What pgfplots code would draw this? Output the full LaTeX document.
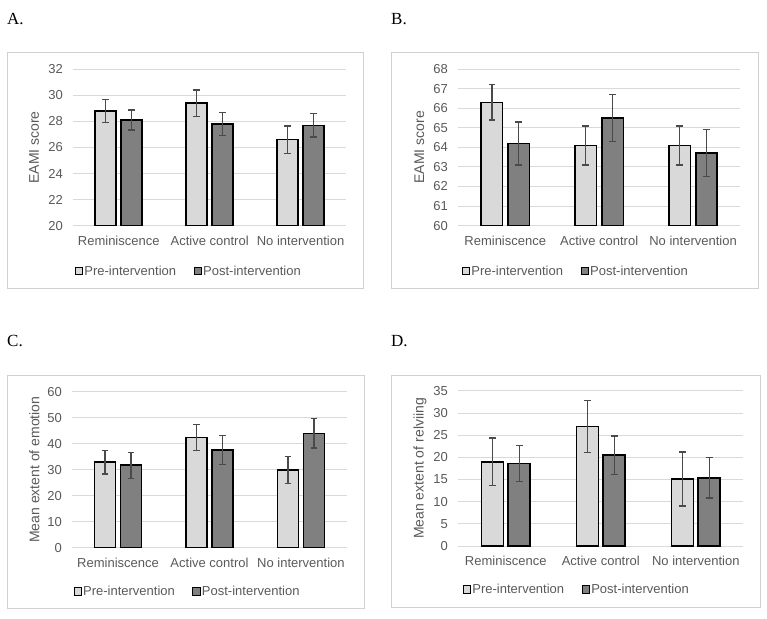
\documentclass[border=0pt]{standalone}
\usepackage{pgfplots}
\pgfplotsset{compat=1.18}
\usepackage{fontspec}
\setmainfont{Liberation Sans}
\newfontfamily\panelfont{Liberation Serif}
\definecolor{gridgray}{HTML}{D9D9D9}
\definecolor{labelgray}{HTML}{595959}
\definecolor{errgray}{HTML}{4A4A4A}
\definecolor{prefill}{HTML}{D9D9D9}
\definecolor{postfill}{HTML}{808080}
\definecolor{framegray}{HTML}{D0D0D0}
\newcommand{\lblfont}{\fontsize{13}{15}\selectfont}
\pgfplotsset{
  panel/.style={
    scale only axis, anchor=south west,
    xmin=-0.5, xmax=2.5, xtick={0,1,2},
    xticklabels={Reminiscence, Active control, No intervention},
    axis line style={draw=none}, major tick length=0pt,
    ymajorgrids, grid style={draw=gridgray, line width=1pt},
    ticklabel style={font=\lblfont, text=labelgray},
    /pgf/number format/assume math mode=true,
    yticklabel style={xshift=-7pt},
    xticklabel style={yshift=-7pt},
    legend style={draw=none, fill=none, font=\lblfont, text=labelgray, anchor=center,
      legend columns=2, /tikz/every even column/.append style={column sep=16pt},
      nodes={inner sep=1.5pt}},
    every axis plot/.append style={draw=black, line width=1.6pt,
      error bars/.cd, y dir=both, y explicit,
      error bar style={line width=1.4pt, draw=errgray},
      error mark options={line width=1.4pt, draw=errgray, mark size=3.3pt, rotate=90},
      /pgfplots/.cd},
  },
  sqlegend/.style={legend image code/.code={\draw[##1, line width=0.9pt] (0pt,-3.6pt) rectangle (7.2pt,3.6pt);}},
  ylab/.style={ylabel style={at={(axis description cs:#1,0.5)}, anchor=center,
      font=\fontsize{14}{16}\selectfont, text=labelgray}},
}
\begin{document}
\begin{tikzpicture}
\path[use as bounding box] (0pt,0pt) rectangle (767pt,618pt);
% frames
\draw[framegray, line width=1pt] (7pt,{618pt-53pt}) rectangle (363pt,{618pt-289pt});
\draw[framegray, line width=1pt] (391pt,{618pt-53pt}) rectangle (758pt,{618pt-289pt});
\draw[framegray, line width=1pt] (7pt,{618pt-376pt}) rectangle (364pt,{618pt-608pt});
\draw[framegray, line width=1pt] (391pt,{618pt-376pt}) rectangle (760pt,{618pt-607pt});
% panel letters
\node[anchor=base west, inner sep=0pt, font=\panelfont\fontsize{17}{19}\selectfont] at (7pt,{618pt-25pt}) {A.};
\node[anchor=base west, inner sep=0pt, font=\panelfont\fontsize{17}{19}\selectfont] at (391pt,{618pt-25pt}) {B.};
\node[anchor=base west, inner sep=0pt, font=\panelfont\fontsize{17}{19}\selectfont] at (7pt,{618pt-346.7pt}) {C.};
\node[anchor=base west, inner sep=0pt, font=\panelfont\fontsize{17}{19}\selectfont] at (391pt,{618pt-346.7pt}) {D.};

% Panel A
\begin{axis}[panel, at={(73.3pt,392.3pt)}, width=272.7pt, height=156.4pt,
  ybar=5pt, bar width=21pt, sqlegend,
  ymin=20, ymax=32, ytick={20,22,...,32},
  ylabel={EAMI score}, ylab=-0.144,
  legend style={at={(0.4225,-0.29)}}]
\addplot[fill=prefill] coordinates {(0,28.8) +- (0,0.9) (1,29.4) +- (0,1.0) (2,26.6) +- (0,1.05)};
\addplot[fill=postfill] coordinates {(0,28.1) +- (0,0.77) (1,27.8) +- (0,0.9) (2,27.7) +- (0,0.9)};
\legend{Pre-intervention, Post-intervention}
\end{axis}

% Panel B
\begin{axis}[panel, at={(458.3pt,392.3pt)}, width=281.7pt, height=156.7pt,
  ybar=5.3pt, bar width=21.5pt, sqlegend,
  ymin=60, ymax=68, ytick={60,61,...,68},
  ylabel={EAMI score}, ylab=-0.138,
  legend style={at={(0.416,-0.29)}}]
\addplot[fill=prefill] coordinates {(0,66.3) +- (0,0.9) (1,64.1) +- (0,1.0) (2,64.1) +- (0,1.0)};
\addplot[fill=postfill] coordinates {(0,64.2) +- (0,1.1) (1,65.5) +- (0,1.2) (2,63.7) +- (0,1.2)};
\legend{Pre-intervention, Post-intervention}
\end{axis}

% Panel C
\begin{axis}[panel, at={(72.3pt,70.3pt)}, width=274.4pt, height=156pt,
  ybar=5pt, bar width=21pt, sqlegend,
  ymin=0, ymax=60, ytick={0,10,...,60},
  ylabel={Mean extent of emotion}, ylab=-0.138,
  legend style={at={(0.419,-0.28)}}]
\addplot[fill=prefill] coordinates {(0,32.9) +- (0,4.6) (1,42.4) +- (0,5.0) (2,29.9) +- (0,5.1)};
\addplot[fill=postfill] coordinates {(0,31.7) +- (0,5.0) (1,37.6) +- (0,5.6) (2,44.0) +- (0,5.6)};
\legend{Pre-intervention, Post-intervention}
\end{axis}

% Panel D
\begin{axis}[panel, at={(458.3pt,72pt)}, width=285pt, height=155pt,
  ybar=4.8pt, bar width=22pt, sqlegend,
  ymin=0, ymax=35, ytick={0,5,...,35},
  ylabel={Mean extent of relviing}, ylab=-0.134,
  legend style={at={(0.415,-0.28)}}]
\addplot[fill=prefill] coordinates {(0,19.0) +- (0,5.35) (1,27.0) +- (0,5.9) (2,15.1) +- (0,6.1)};
\addplot[fill=postfill] coordinates {(0,18.6) +- (0,4.1) (1,20.5) +- (0,4.35) (2,15.4) +- (0,4.55)};
\legend{Pre-intervention, Post-intervention}
\end{axis}
\end{tikzpicture}
\end{document}
